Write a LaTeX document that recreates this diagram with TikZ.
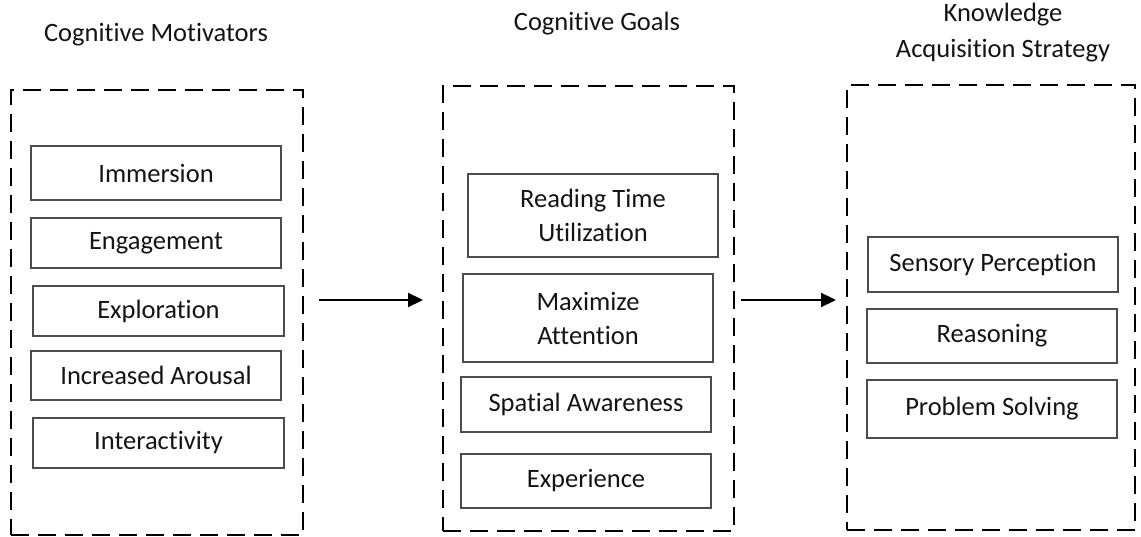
\documentclass[tikz,border=0pt]{standalone}
\usepackage{fontspec}
\setmainfont{Carlito}[Ligatures=NoCommon]
\usetikzlibrary{arrows.meta}
\begin{document}
\begin{tikzpicture}[x=1pt,y=-1pt,
  every node/.style={font=\fontsize{26.5}{34}\selectfont, text=black!92},
  item/.style={draw=black!70, line width=1.3pt, rectangle, minimum width=250pt, inner sep=0pt, align=center},
  group/.style={draw=black, line width=2.8pt, dash pattern=on 18pt off 9pt, rectangle, inner sep=0pt, outer sep=0pt},
  title/.style={align=center, font=\fontsize{26.5}{36}\selectfont},
  conn/.style={line width=2.2pt, -{Triangle[length=15pt,width=14pt]}}]
\useasboundingbox (0,0) rectangle (1141,537);

% groups
\node[group, minimum width=292pt, minimum height=445pt] (L) at (157,312.5) {};
\node[group, minimum width=291pt, minimum height=445pt] (M) at (588.5,308.5) {};
\node[group, minimum width=288pt, minimum height=445pt] (R) at (991,307.5) {};

% titles
\node[title] (tL) at (156,35) {Cognitive Motivators};
\node[title] (tM) at (597,24) {Cognitive Goals};
\node[title] (tR) at (1003,33) {Knowledge\\Acquisition Strategy};

% left items
\node[item, minimum height=54pt] (imm) at (156,173) {Immersion};
\node[item, minimum height=50pt] (eng) at (156,243) {Engagement};
\node[item, minimum height=50pt, minimum width=251pt] (exp) at (158.5,311) {Exploration};
\node[item, minimum height=49pt] (aro) at (156,375.5) {Increased Arousal};
\node[item, minimum height=50pt, minimum width=251pt] (int) at (158.5,443) {Interactivity};

% middle items
\node[item, minimum height=83pt] (rea) at (593,215.5) {Reading Time\\Utilization};
\node[item, minimum height=88pt] (max) at (588,318) {Maximize\\Attention};
\node[item, minimum height=55pt] (spa) at (586,404.5) {Spatial Awareness};
\node[item, minimum height=54pt] (expc) at (586,481) {Experience};

% right items
\node[item, minimum height=55pt] (sen) at (993,264.5) {Sensory Perception};
\node[item, minimum height=54pt] (rsn) at (992,336) {Reasoning};
\node[item, minimum height=58pt] (prb) at (992,409) {Problem Solving};

% connectors
\coordinate (ay) at (0,300);
\draw[conn, shorten <=16pt, shorten >=20pt] (L.east |- ay) -- (M.west |- ay);
\draw[conn, shorten <=7pt, shorten >=11pt] (M.east |- ay) -- (R.west |- ay);
\end{tikzpicture}
\end{document}
